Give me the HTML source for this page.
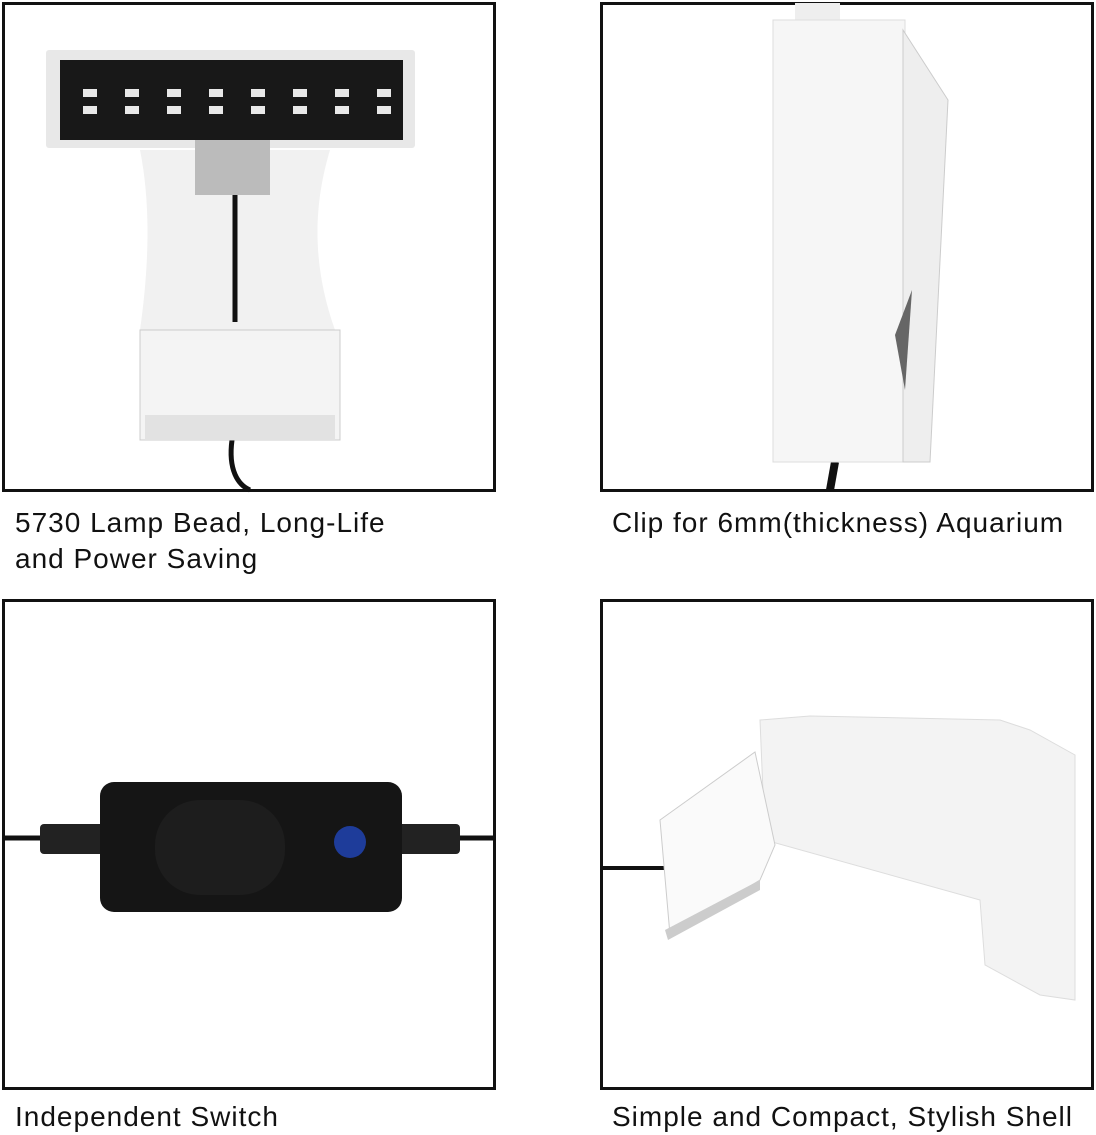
<!DOCTYPE html>
<html><head><meta charset="utf-8"><style>
body{margin:0;width:1096px;height:1135px;background:#fff;position:relative;overflow:hidden;font-family:"Liberation Sans",sans-serif;}
.box{position:absolute;border:3px solid #111;box-sizing:border-box;background:#fff;overflow:hidden}
.t{position:absolute;font-size:28px;letter-spacing:1px;color:#111;line-height:36px;white-space:nowrap}
svg{position:absolute;left:0;top:0}
</style></head><body>
<div class="box" style="left:2px;top:2px;width:494px;height:490px"></div>
<div class="box" style="left:600px;top:2px;width:494px;height:490px"></div>
<div class="box" style="left:2px;top:599px;width:494px;height:491px"></div>
<div class="box" style="left:600px;top:599px;width:494px;height:491px"></div>
<svg width="1096" height="1135">
<!-- panel 1 -->
<path d="M232 440 C228 470 238 485 250 490" stroke="#111" stroke-width="5" fill="none"/>
<path d="M170 150 L330 150 C315 200 310 260 335 330 L140 330 C150 260 150 200 140 150 Z" fill="#f1f1f1"/>
<rect x="140" y="330" width="200" height="110" fill="#f4f4f4" stroke="#ccc"/>
<rect x="145" y="415" width="190" height="25" fill="#e2e2e2"/>
<line x1="235" y1="195" x2="235" y2="322" stroke="#111" stroke-width="5"/>
<rect x="46" y="50" width="369" height="98" rx="3" fill="#e8e8e8"/>
<rect x="60" y="60" width="343" height="80" fill="#181818"/>
<g fill="#e8e8e8">
<rect x="83" y="89" width="14" height="8"/><rect x="125" y="89" width="14" height="8"/><rect x="167" y="89" width="14" height="8"/><rect x="209" y="89" width="14" height="8"/><rect x="251" y="89" width="14" height="8"/><rect x="293" y="89" width="14" height="8"/><rect x="335" y="89" width="14" height="8"/><rect x="377" y="89" width="14" height="8"/>
<rect x="83" y="106" width="14" height="8"/><rect x="125" y="106" width="14" height="8"/><rect x="167" y="106" width="14" height="8"/><rect x="209" y="106" width="14" height="8"/><rect x="251" y="106" width="14" height="8"/><rect x="293" y="106" width="14" height="8"/><rect x="335" y="106" width="14" height="8"/><rect x="377" y="106" width="14" height="8"/>
</g>
<rect x="195" y="140" width="75" height="55" fill="#bbb"/>
<!-- panel 2 -->
<rect x="795" y="3" width="45" height="20" fill="#eee"/>
<path d="M835 462 L830 490" stroke="#111" stroke-width="8"/>
<rect x="773" y="20" width="132" height="442" fill="#f6f6f6" stroke="#ddd"/>
<path d="M903 30 L948 100 L930 462 L903 462 Z" fill="#eeeeee" stroke="#ccc"/>
<path d="M912 290 L895 335 L905 390 Z" fill="#666"/>
<!-- panel 3 -->
<line x1="3" y1="838" x2="110" y2="838" stroke="#111" stroke-width="5"/>
<line x1="390" y1="838" x2="494" y2="838" stroke="#111" stroke-width="5"/>
<rect x="40" y="824" width="65" height="30" rx="4" fill="#222"/>
<rect x="395" y="824" width="65" height="30" rx="4" fill="#222"/>
<rect x="100" y="782" width="302" height="130" rx="14" fill="#151515"/>
<rect x="155" y="800" width="130" height="95" rx="45" fill="#1d1d1d"/>
<circle cx="350" cy="842" r="16" fill="#1e3c9a"/>
<!-- panel 4 -->
<line x1="603" y1="868" x2="670" y2="868" stroke="#111" stroke-width="4"/>
<path d="M760 720 L810 716 L1000 720 L1030 730 L1075 755 L1075 1000 L1040 995 L985 965 L980 900 L765 840 Z" fill="#f3f3f3" stroke="#ddd"/>
<path d="M660 820 L755 752 L775 845 L760 880 L670 935 Z" fill="#fafafa" stroke="#ccc"/>
<path d="M665 930 L760 880 L760 890 L668 940 Z" fill="#ccc"/>
</svg>
<div class="t" style="left:15px;top:505px">5730 Lamp Bead, Long-Life<br>and Power Saving</div>
<div class="t" style="left:612px;top:505px">Clip for 6mm(thickness) Aquarium</div>
<div class="t" style="left:15px;top:1099px">Independent Switch</div>
<div class="t" style="left:612px;top:1099px">Simple and Compact, Stylish Shell</div>
</body></html>
